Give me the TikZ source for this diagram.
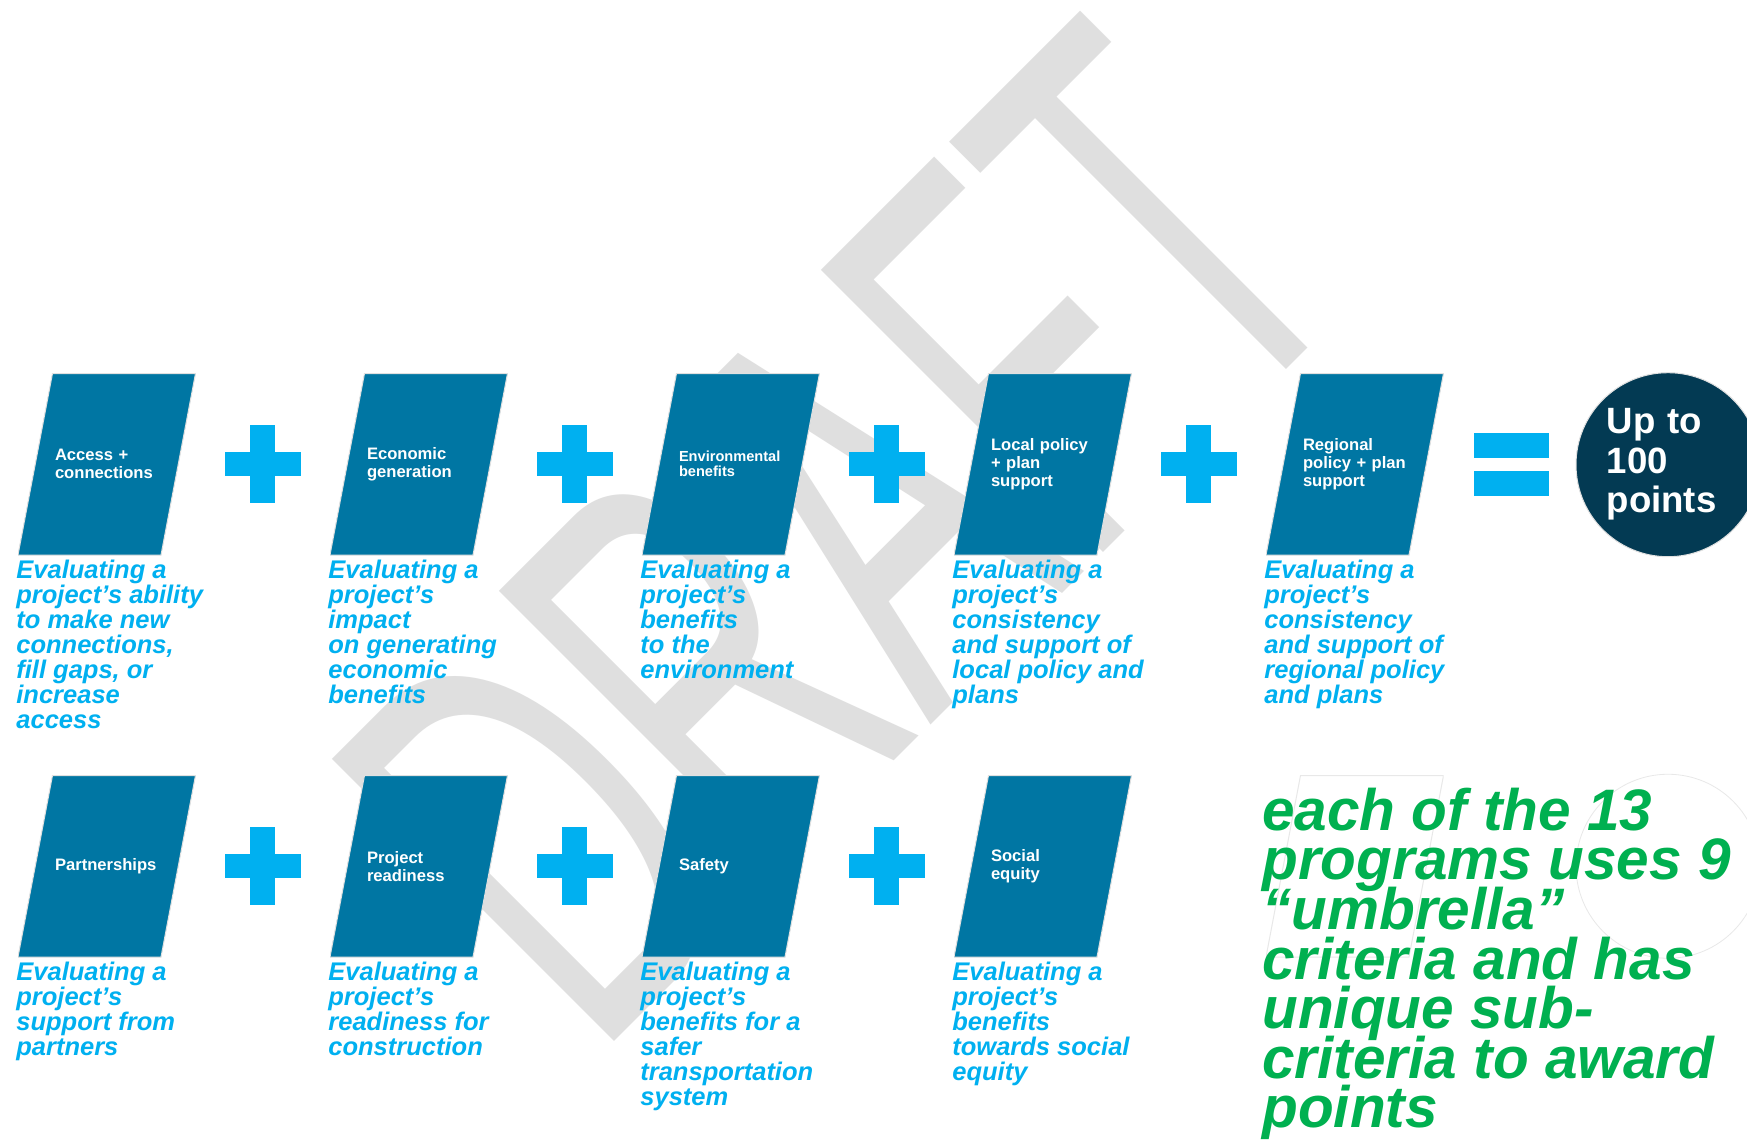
\documentclass[tikz,border=0pt]{standalone}
\usepackage{fontspec}
\setmainfont{Liberation Sans}
\usetikzlibrary{positioning,calc}
\definecolor{critblue}{HTML}{0076A3}
\definecolor{critcyan}{HTML}{00B0F0}
\definecolor{totalnavy}{HTML}{033A53}
\definecolor{notegreen}{HTML}{00B050}
\definecolor{draftgray}{HTML}{DFDFDF}
\setlength{\lineskiplimit}{-100pt}
\tikzset{
    % slanted box drawn inside the node's rectangle
    slanted/.style={path picture={
        \path[#1] ([xshift=17.25pt]path picture bounding box.north west)
            -- (path picture bounding box.north east)
            -- ([xshift=-17.25pt]path picture bounding box.south east)
            -- (path picture bounding box.south west) -- cycle;
    }},
    crit/.style={rectangle, minimum width=88.75pt, minimum height=90.75pt,
        inner sep=0pt, outer sep=0pt,
        slanted={fill=critblue, draw=black!12, line width=0.5pt},
        text width=51.75pt, align=left, text=white,
        font=\bfseries\fontsize{8.3}{8.9}\selectfont},
    ghostcrit/.style={rectangle, minimum width=88.75pt, minimum height=90.75pt,
        inner sep=0pt, outer sep=0pt, slanted={draw=black!9, line width=0.5pt}},
    desc/.style={inner sep=0pt, align=left, text=critcyan,
        font=\bfseries\itshape\fontsize{12.75}{12.5}\selectfont},
    total/.style={circle, minimum size=92pt, inner sep=0pt, fill=totalnavy,
        draw=black!12, line width=0.5pt, text width=61.3pt, align=left,
        text=white, font=\bfseries\fontsize{18.3}{19.75}\selectfont},
    ghostring/.style={circle, minimum size=92pt, inner sep=0pt,
        draw=black!9, line width=0.4pt},
    note/.style={inner sep=0pt, align=left, text=notegreen,
        font=\bfseries\itshape\fontsize{29.25}{24.8}\selectfont},
    draftmark/.style={inner sep=0pt, text=draftgray,
        font=\fontsize{290}{290}\selectfont},
    pics/plussign/.style={code={
        \fill[critcyan] (-12.65,-39.15) rectangle (12.65,39.15);
        \fill[critcyan] (-38.2,-12.2) rectangle (38.2,12.2);
    }},
    pics/equalsign/.style={code={
        \fill[critcyan] (-37.8,-31.2) rectangle (37.8,-6.2);
        \fill[critcyan] (-37.8,6.8) rectangle (37.8,31.2);
    }}
}

\begin{document}
\begin{tikzpicture}[x=0.5pt, y=-0.5pt, node distance=67.25pt]
    \fill[white] (0,0) rectangle (1747,1146);
    \useasboundingbox (0,0) rectangle (1747,1146);
    % watermark goes underneath
    \node[draftmark, rotate=45, anchor=base] (draft) at (981.8,674) {\scalebox{0.565}[1]{DRAFT}};

    % first row of criteria
    \node[crit] (access) at (106.75,464.25) {Access +\\connections};
    \node[crit, right=of access] (econ) {Economic\\generation};
    \node[crit, right=of econ, font=\bfseries\fontsize{7.3}{7.5}\selectfont] (env) {Environmental\\benefits};
    \node[crit, right=of env] (local) {Local policy\\+ plan\\support};
    \node[crit, right=of local] (regional) {Regional\\policy + plan\\support};
    \node[total] (total) at (1668,464.7) {Up to\\100\\points};

    % second row of criteria
    \node[crit] (partners) at (106.75,866.25) {Partnerships};
    \node[crit, right=of partners] (ready) {Project\\readiness};
    \node[crit, right=of ready] (safety) {Safety};
    \node[crit, right=of safety] (equity) {Social\\equity};

    % faint leftovers under the note
    \node[ghostcrit, right=of equity] (ghostbox) {};
    \node[ghostring] (ghostcircle) at (1668,866.25) {};

    % descriptions under each box
    \node[desc, below right=2.4pt and -1pt of access.south west] (accessdesc)
        {Evaluating a\\project’s ability\\to make new\\connections,\\fill gaps, or\\increase\\access};
    \node[desc, below right=2.4pt and -1pt of econ.south west] (econdesc)
        {Evaluating a\\project’s\\impact\\on generating\\economic\\benefits};
    \node[desc, below right=2.4pt and -1pt of env.south west] (envdesc)
        {Evaluating a\\project’s\\benefits\\to the\\environment};
    \node[desc, below right=2.4pt and -1pt of local.south west] (localdesc)
        {Evaluating a\\project’s\\consistency\\and support of\\local policy and\\plans};
    \node[desc, below right=2.4pt and -1pt of regional.south west] (regionaldesc)
        {Evaluating a\\project’s\\consistency\\and support of\\regional policy\\and plans};
    \node[desc, below right=2.4pt and -1pt of partners.south west] (partnersdesc)
        {Evaluating a\\project’s\\support from\\partners};
    \node[desc, below right=2.4pt and -1pt of ready.south west] (readydesc)
        {Evaluating a\\project’s\\readiness for\\construction};
    \node[desc, below right=2.4pt and -1pt of safety.south west] (safetydesc)
        {Evaluating a\\project’s\\benefits for a\\safer\\transportation\\system};
    \node[desc, below right=2.4pt and -1pt of equity.south west] (equitydesc)
        {Evaluating a\\project’s\\benefits\\towards social\\equity};

    % plus and equal signs between the boxes
    \pic at ($(access)!.5!(econ)$) {plussign};
    \pic at ($(econ)!.5!(env)$) {plussign};
    \pic at ($(env)!.5!(local)$) {plussign};
    \pic at ($(local)!.5!(regional)$) {plussign};
    \pic at ($(regional)!.5!(total)$) {equalsign};
    \pic at ($(partners)!.5!(ready)$) {plussign};
    \pic at ($(ready)!.5!(safety)$) {plussign};
    \pic at ($(safety)!.5!(equity)$) {plussign};

    \node[note, anchor=north west] (note) at (1262,787.4)
        {each of the 13\\programs uses 9\\“umbrella”\\criteria and has\\unique sub-\\criteria to award\\points};
\end{tikzpicture}
\end{document}
